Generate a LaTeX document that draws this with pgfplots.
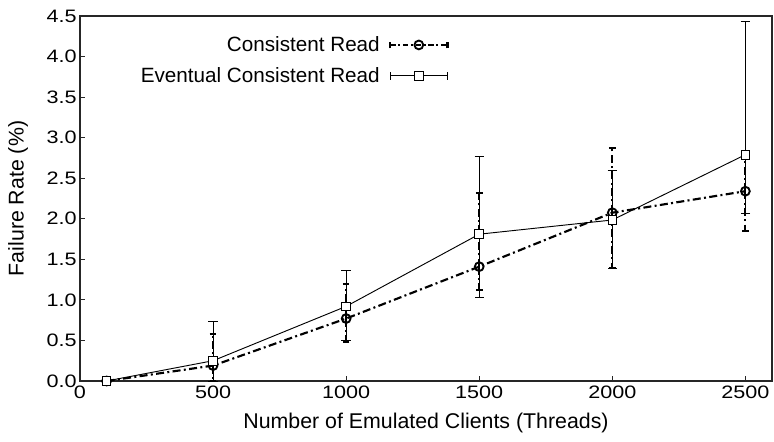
\documentclass[border=0pt]{standalone}
\usepackage{pgfplots}
\pgfplotsset{compat=1.18}
\usepackage{fontspec}
\setmainfont{Liberation Sans}
\newfontfamily\tickfont{Liberation Sans}[FakeStretch=1.2]
\begin{document}
\begin{tikzpicture}
\begin{axis}[
  name=ax,
  scale only axis,
  width=519pt, height=273.75pt,
  xmin=0, xmax=2600, ymin=0, ymax=4.5,
  xtick={0,500,1000,1500,2000,2500},
  xticklabels={0,500,1000,1500,2000,2500},
  ytick={0,0.5,...,4.5},
  yticklabel style={/tikz/xshift=1pt, /pgf/number format/.cd, fixed, fixed zerofill, precision=1},
  /pgf/number format/assume math mode=true,
  tick pos=left, tick align=inside,
  major tick length=4pt,
  axis line style={line width=1.1pt, black!85},
  every tick/.style={black!85, line width=0.8pt},
  tick label style={font=\tickfont\fontsize{13.5}{15}\selectfont},
  label style={font=\fontsize{16}{18}\selectfont},
  xlabel={Number of Emulated Clients (Threads)},
  ylabel={Failure Rate (\%)},
  xlabel style={at={(axis description cs:0.5,-0.115)}, anchor=center},
  ylabel style={at={(axis description cs:-0.0896,0.5)}, anchor=center},
  legend style={draw=none, fill=none, at={(0.533,0.952)}, anchor=north east,
    inner sep=0pt, font=\fontsize{15.5}{18}\selectfont, row sep=6.5pt},
  legend cell align=right,
  legend plot pos=right,
]
\addplot[black, line width=1.6pt, dash pattern=on 6pt off 2.5pt on 1.5pt off 2.5pt,
  mark=o, mark size=3.3pt, mark options={solid, fill=white, line width=1.4pt},
  legend image code/.code={
    \path (0pt,0pt);
    \draw[black, line width=1.6pt, dash pattern=on 4pt off 2pt on 1.5pt off 2pt] (5pt,0pt) -- (48pt,0pt);
    \draw[black, line width=1.6pt] (5pt,-2.5pt) -- (5pt,2.5pt);
    \draw[black, line width=1.6pt] (48pt,-2.5pt) -- (48pt,2.5pt);
    \draw[black, mark=o, mark size=3.3pt, mark options={solid, fill=white, line width=1.4pt}] plot coordinates {(26.5pt,0pt)};
  },
  error bars/.cd, y dir=both, y explicit,
  error bar style={line width=1.6pt, dash pattern=on 6pt off 2.5pt on 1.5pt off 2.5pt},
  error mark options={rotate=90, mark size=2.5pt, line width=1.6pt, solid},
  ]
  coordinates {
  (100,0) += (0,0) -= (0,0)
  (500,0.19) += (0,0.39) -= (0,0.19)
  (1000,0.77) += (0,0.43) -= (0,0.29)
  (1500,1.41) += (0,0.91) -= (0,0.29)
  (2000,2.075) += (0,0.80) -= (0,0.685)
  (2500,2.34) += (0,0.40) -= (0,0.49)
  };
\addlegendentry{Consistent Read}
\addplot[black, line width=0.7pt, mark=square*, mark size=3.2pt,
  mark options={fill=white, line width=0.7pt},
  legend image code/.code={
    \path (0pt,0pt);
    \draw[black, line width=0.7pt] (5pt,0pt) -- (48pt,0pt);
    \draw[black, line width=0.7pt] (5pt,-3pt) -- (5pt,3pt);
    \draw[black, line width=0.7pt] (48pt,-3pt) -- (48pt,3pt);
    \draw[black, mark=square*, mark size=3.2pt, mark options={fill=white, line width=0.7pt}] plot coordinates {(26.5pt,0pt)};
  },
  error bars/.cd, y dir=both, y explicit,
  error bar style={line width=0.7pt},
  error mark options={rotate=90, mark size=3.5pt, line width=0.7pt},
  ]
  coordinates {
  (100,0) += (0,0) -= (0,0)
  (500,0.25) += (0,0.49) -= (0,0.25)
  (1000,0.92) += (0,0.44) -= (0,0.42)
  (1500,1.81) += (0,0.96) -= (0,0.78)
  (2000,1.985) += (0,0.605) -= (0,0.595)
  (2500,2.79) += (0,1.64) -= (0,0.72)
  };
\addlegendentry{Eventual Consistent Read}
\end{axis}
\pgfresetboundingbox
\path[use as bounding box] ([xshift=-60pt,yshift=-45.75pt]ax.south west) rectangle ([xshift=1.5pt,yshift=12pt]ax.north east);
\end{tikzpicture}
\end{document}
